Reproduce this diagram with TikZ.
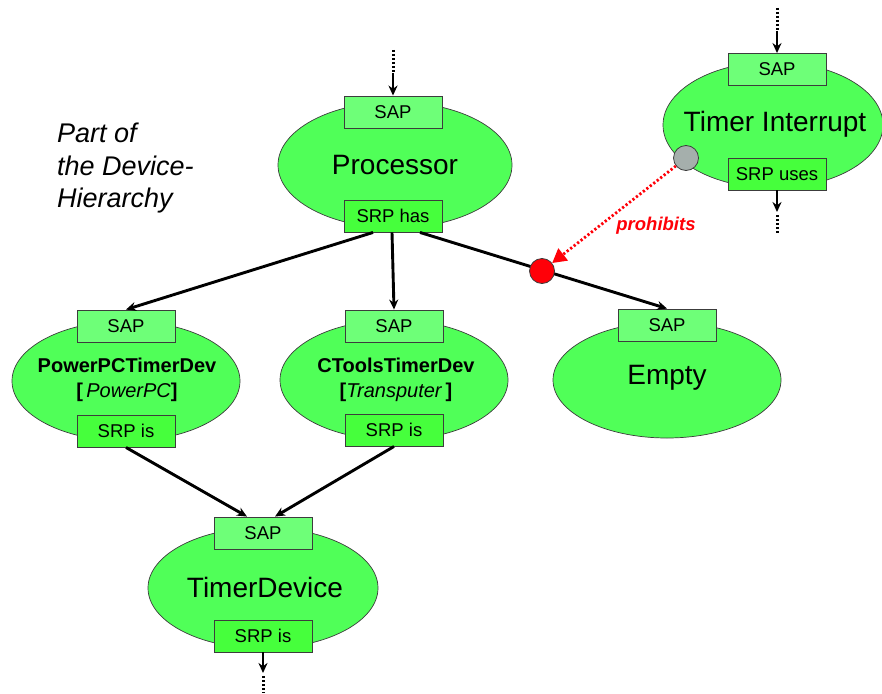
\documentclass[tikz,border=0pt]{standalone}
\usepackage{fontspec}
\setmainfont{Liberation Sans}
\usetikzlibrary{shapes.geometric,arrows.meta,calc}

\definecolor{blobgreen}{RGB}{80,255,88}
\definecolor{sapgreen}{RGB}{110,255,120}
\definecolor{srpgreen}{RGB}{70,255,60}
\definecolor{edgegray}{RGB}{60,60,60}
\definecolor{knobgray}{RGB}{165,175,172}
\definecolor{stopred}{RGB}{255,0,8}

\newcommand\bigtxt{\fontsize{28}{32}\selectfont}
\newcommand\boxtxt{\fontsize{18.5}{21}\selectfont}
\newcommand\devtxt{\fontsize{20}{23}\selectfont}
\newcommand\notetxt{\fontsize{27}{31}\selectfont\itshape}

\begin{document}
\begin{tikzpicture}[x=1pt,y=-1pt,
  blob/.style={ellipse, draw=edgegray, line width=0.7pt, fill=blobgreen, inner sep=0pt},
  sapbox/.style={rectangle, draw=edgegray, line width=0.9pt, fill=sapgreen,
    minimum width=98pt, minimum height=32pt, inner sep=0pt, font=\boxtxt},
  srpbox/.style={sapbox, fill=srpgreen},
  link/.style={line width=2.9pt, -{Stealth[length=10pt,width=9pt]}},
  leadarrow/.style={line width=2.7pt, -{Stealth[length=10pt,width=9pt]}},
  dotlead/.style={line width=3pt, dash pattern=on 2.4pt off 1.6pt},
  bigtext/.style={font=\bigtxt, inner sep=0pt},
  devtext/.style={font=\devtxt, inner sep=0pt, align=center}
]
\useasboundingbox (0,0) rectangle (882,693);

% ---- ellipses ----
\node[blob, minimum width=234pt, minimum height=126pt] (proc)   at (395,165) {};
\node[blob, minimum width=220pt, minimum height=126pt] (timer)  at (773,125) {};
\node[blob, minimum width=228pt, minimum height=120pt] (ppc)    at (126,381) {};
\node[blob, minimum width=228pt, minimum height=120pt] (ctools) at (394,380) {};
\node[blob, minimum width=228pt, minimum height=116pt] (empty)  at (667,380) {};
\node[blob, minimum width=230pt, minimum height=121pt] (tdev)   at (263,588) {};

% ---- titles ----
\node[bigtext] (procT)  at (395,165) {Processor};
\node[bigtext] (timerT) at (775,124) {Timer Interrupt};
\node[bigtext] (emptyT) at (667,378) {Empty};
\node[bigtext] (tdevT)  at (265,587) {TimerDevice};
\node[devtext] (ppcT) at (127,380) {\textbf{PowerPCTimerDev}\\[2pt]\textbf{[}\,\textit{PowerPC}\textbf{]}};
\node[devtext] (ctT)  at (396,380) {\textbf{CToolsTimerDev}\\[2pt]\textbf{[}\textit{Transputer}\,\textbf{]}};

% ---- access points ----
\node[sapbox] (procSAP)  at (393,112) {SAP};
\node[srpbox] (procSRP)  at (393,216) {SRP has};
\node[sapbox] (timerSAP) at (777,69.5) {SAP};
\node[srpbox] (timerSRP) at (777,174) {SRP uses};
\node[sapbox] (ppcSAP)   at (126,326) {SAP};
\node[srpbox] (ppcSRP)   at (126,431) {SRP is};
\node[sapbox] (ctSAP)    at (394,326) {SAP};
\node[srpbox] (ctSRP)    at (394,430) {SRP is};
\node[sapbox] (emptySAP) at (667,325) {SAP};
\node[sapbox] (tdSAP)    at (263,533) {SAP};
\node[srpbox] (tdSRP)    at (263,636) {SRP is};

% ---- hierarchy edges ----
\coordinate (fromL) at ($(procSRP.south)+(-20,0)$);
\coordinate (fromM) at ($(procSRP.south)+(-1,0)$);
\coordinate (fromR) at ($(procSRP.south)+(27,0)$);
\draw[link] (fromL) -- (ppcSAP.north);
\draw[link] (fromM) -- (ctSAP.north);
\draw[link] (fromR) -- (emptySAP.north);
\draw[link] (ppcSRP.south) -- ($(tdSAP.north)+(-16,0)$);
\draw[link] (ctSRP.south)  -- ($(tdSAP.north)+(12,0)$);

% ---- open ends above / below ----
\coordinate (procIn0) at (393,50);
\coordinate (procIn1) at (393,73);
\draw[dotlead] (procIn0) -- (procIn1);
\draw[leadarrow] (procIn1) -- (procSAP.north);

\coordinate (timerIn0) at (777,8);
\coordinate (timerIn1) at (777,31);
\draw[dotlead] (timerIn0) -- (timerIn1);
\draw[leadarrow] (timerIn1) -- (timerSAP.north);

\coordinate (timerOut1) at (777,212);
\coordinate (timerOut2) at (777,215);
\coordinate (timerOut3) at (777,233);
\draw[leadarrow] (timerSRP.south) -- (timerOut1);
\draw[dotlead] (timerOut2) -- (timerOut3);

\coordinate (tdOut1) at (263,673);
\coordinate (tdOut2) at (263,676);
\coordinate (tdOut3) at (263,693);
\draw[leadarrow] (tdSRP.south) -- (tdOut1);
\draw[dotlead] (tdOut2) -- (tdOut3);

% ---- prohibition ----
\node[circle, draw=edgegray, line width=0.8pt, fill=knobgray, minimum size=25pt, inner sep=0pt] (knob) at (686,158) {};
\node[circle, draw=edgegray, line width=0.8pt, fill=stopred, minimum size=25pt, inner sep=0pt] (stop) at (542,271) {};
\draw[stopred, line width=2.8pt, dash pattern=on 2.2pt off 2.2pt, -{Triangle[length=14pt,width=15pt]}]
  (knob) -- (stop);
\node[text=stopred, font=\fontsize{18.5}{21}\selectfont\bfseries\itshape, inner sep=0pt] (prohib) at (656,226) {prohibits};

% ---- side note ----
\node[font=\notetxt, anchor=base west, inner sep=0pt] (note1) at (57,142) {Part of};
\node[font=\notetxt, anchor=base west, inner sep=0pt] (note2) at (57,175) {the Device-};
\node[font=\notetxt, anchor=base west, inner sep=0pt] (note3) at (57,207) {Hierarchy};
\end{tikzpicture}
\end{document}
